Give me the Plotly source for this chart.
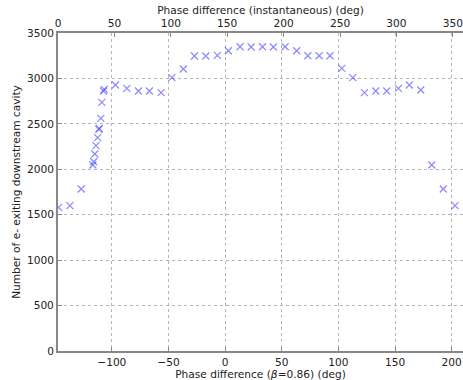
import plotly.graph_objects as go

# Phase difference (beta=0.86) in degrees, bottom axis
phase = [-147, -137, -127, -116.7, -116, -115, -114, -112.5, -111.5, -111, -109.7, -108.8, -107.3, -106.7,
         -96.8, -86.7, -76.5, -66.8, -56.5, -47, -36.8, -27, -17, -6.8, 2.9,
         13.2, 23, 33, 42.6, 53, 63.2, 73, 83, 92.6, 103, 112.7, 123, 133, 142.7, 153, 162.6,
         172.7, 182.4, 192.6, 203]
# Number of electrons exiting downstream cavity
counts = [1580, 1600, 1783, 2047, 2083, 2168, 2260, 2348, 2440, 2450, 2561, 2737, 2862, 2880,
          2928, 2891, 2862, 2862, 2843, 3008, 3104, 3247, 3247, 3254, 3305,
          3349, 3346, 3349, 3346, 3349, 3305, 3250, 3250, 3250, 3111, 3008, 2843, 2862, 2862, 2891, 2928,
          2873, 2047, 1783, 1600]

bottom_ticks = [-100, -50, 0, 50, 100, 150, 200]
top_ticks = [0, 50, 100, 150, 200, 250, 300, 350]
y_ticks = [0, 500, 1000, 1500, 2000, 2500, 3000, 3500]

font = dict(family="DejaVu Sans", size=10.6, color="#222")
spine = "#888888"

fig = go.Figure()
fig.add_trace(go.Scatter(
    x=phase, y=counts, mode="markers",
    marker=dict(symbol="x-thin", size=7, line=dict(width=1.2, color="rgba(40,40,255,0.55)")),
    hoverinfo="skip", showlegend=False))
# invisible trace to activate the top axis
fig.add_trace(go.Scatter(x=top_ticks, y=[None] * len(top_ticks), xaxis="x2", mode="markers",
                         marker=dict(opacity=0), showlegend=False, hoverinfo="skip"))

fig.update_layout(
    width=463, height=380,
    margin=dict(l=58, r=0, t=33, b=29),
    paper_bgcolor="white", plot_bgcolor="white",
    font=font,
    xaxis=dict(range=[-147.5, 210], tickvals=bottom_ticks, ticks="inside", ticklen=4,
               tickcolor=spine, showline=True, linecolor=spine, linewidth=2,
               showgrid=True, gridcolor="#b5b5b5", griddash="dot", gridwidth=1,
               zeroline=False, tickfont=font, ticklabeloverflow="allow",
               title=dict(text="Phase difference (<i>β</i>=0.86) (deg)", standoff=0, font=font)),
    xaxis2=dict(range=[0, 359], overlaying="x", side="top", tickvals=top_ticks,
                ticks="inside", ticklen=4, tickcolor=spine, showline=True, linecolor=spine,
                linewidth=2, showgrid=False, zeroline=False, tickfont=font,
                ticklabeloverflow="allow",
                title=dict(text="Phase difference (instantaneous) (deg)", standoff=0, font=font)),
    yaxis=dict(range=[0, 3500], tickvals=y_ticks, ticks="inside", ticklen=4, tickcolor=spine,
               showline=True, linecolor=spine, linewidth=2, showgrid=True, gridcolor="#b5b5b5",
               griddash="dot", gridwidth=1, zeroline=False, tickfont=font,
               title=dict(text="Number of e- exiting downstream cavity", standoff=4, font=font)),
)

fig.write_html("out.html")
